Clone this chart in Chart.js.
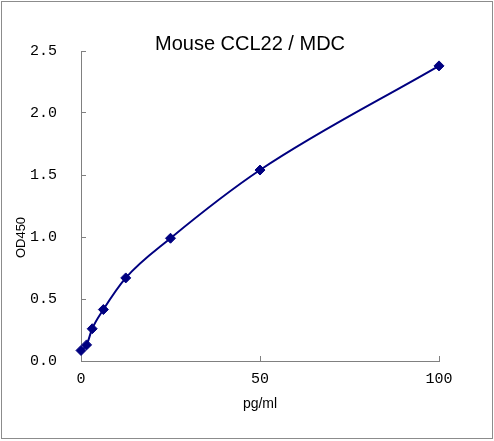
<!DOCTYPE html>
<html lang="en">
<head>
    <meta charset="UTF-8">
    <title>Mouse CCL22 / MDC</title>
    <style>
        body {
            margin: 0;
            background: #fff;
        }
        .wrap {
            position: relative;
            width: 494px;
            height: 441px;
        }
        .wrap canvas {
            display: block;
        }
        /* thin grey frame round the whole picture */
        .frame {
            position: absolute;
            left: 1px;
            top: 1px;
            width: 490px;
            height: 436px;
            border: 1px solid #8c8c8c;
            pointer-events: none;
        }
    </style>
</head>
<body>

<div class="wrap">
    <canvas id="chart" width="494" height="441"></canvas>
    <div class="frame"></div>
</div>

<script src="https://cdn.jsdelivr.net/npm/chart.js@4"></script>
<script>
    // standard curve: concentration (pg/ml) vs OD450
    const concentrations = [0, 1.5625, 3.125, 6.25, 12.5, 25, 50, 100];
    const odValues = [0.085, 0.13, 0.26, 0.415, 0.67, 0.99, 1.54, 2.38];

    const xTicks = [0, 50, 100];
    const yTicks = [0, 0.5, 1.0, 1.5, 2.0, 2.5];

    const lineColor = '#000080';
    const axisColor = '#808080';
    const sansFont = "'Liberation Sans', Arial, sans-serif";
    const tickFont = "'Liberation Mono', 'Courier New', monospace";

    const points = concentrations.map((c, i) => ({ x: c, y: odValues[i] }));

    new Chart(document.getElementById('chart'), {
        type: 'line',
        data: {
            datasets: [{
                data: points,
                borderColor: lineColor,
                backgroundColor: lineColor,
                borderWidth: 2,
                cubicInterpolationMode: 'monotone',
                pointStyle: 'rectRot',
                pointRadius: 5,
                pointBorderWidth: 1,
                pointBorderColor: lineColor,
                pointBackgroundColor: lineColor,
                clip: false,
                fill: false
            }]
        },
        options: {
            responsive: false,
            animation: false,
            layout: {
                padding: { left: 6, right: 0, top: 34, bottom: 0 }
            },
            plugins: {
                legend: { display: false },
                tooltip: { enabled: false },
                title: {
                    display: true,
                    text: 'Mouse CCL22 / MDC',
                    color: '#000',
                    font: { family: sansFont, size: 20, weight: 'normal', lineHeight: 1 },
                    padding: { top: 0, bottom: -3 }
                },
                // y axis title drawn as a left subtitle so it can sit lower than the plot centre
                subtitle: {
                    display: true,
                    position: 'left',
                    text: 'OD450',
                    color: '#000',
                    font: { family: sansFont, size: 13, weight: 'normal', lineHeight: 1.2 },
                    padding: { top: 8, bottom: 0 }
                }
            },
            scales: {
                x: {
                    type: 'linear',
                    min: 0,
                    max: 100,
                    afterBuildTicks: s => { s.ticks = xTicks.map(v => ({ value: v })); },
                    afterFit: s => { s.height = 80; s.paddingRight = 55; },
                    grid: { drawOnChartArea: false, drawTicks: true, tickLength: -5, color: axisColor },
                    border: { color: axisColor, width: 1 },
                    ticks: {
                        color: '#000',
                        font: { family: tickFont, size: 15 },
                        padding: 14,
                        maxRotation: 0,
                        autoSkip: false
                    },
                    title: {
                        display: true,
                        text: 'pg/ml',
                        color: '#000',
                        font: { family: sansFont, size: 14 },
                        padding: { top: 0, bottom: 28 }
                    }
                },
                y: {
                    type: 'linear',
                    min: 0,
                    max: 2.5,
                    afterBuildTicks: s => { s.ticks = yTicks.map(v => ({ value: v })); },
                    afterFit: s => { s.width = 81 - 29.6; },
                    grid: { drawOnChartArea: false, drawTicks: true, tickLength: -5, color: axisColor },
                    border: { color: axisColor, width: 1 },
                    ticks: {
                        color: '#000',
                        font: { family: tickFont, size: 15 },
                        padding: 29,
                        callback: v => v.toFixed(1)
                    }
                }
            }
        }
    });
</script>

</body>
</html>
